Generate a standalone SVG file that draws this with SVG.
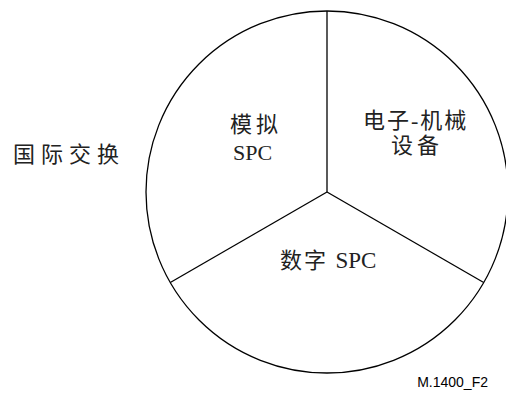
<svg xmlns="http://www.w3.org/2000/svg" width="506" height="396" viewBox="0 0 506 396">
<style>
.ln{fill:none;stroke:#000;stroke-width:1.3}
.lb{font-family:"Liberation Serif","Noto Sans CJK SC",serif;font-size:22px;fill:#222}
.sm{font-family:"Liberation Sans",Arial,sans-serif;font-size:14px;fill:#000}
</style>
<rect width="506" height="396" fill="#fff"/>
<g id="pie">
<circle class="ln" cx="327" cy="192" r="181"/>
</g>
<g id="connectors">
<line class="ln" x1="327" y1="192" x2="327" y2="11"/>
<line class="ln" x1="327" y1="192" x2="170.3" y2="282.5"/>
<line class="ln" x1="327" y1="192" x2="483.7" y2="282.5"/>
</g>
<g id="analog">
<text class="lb" x="230" y="132" letter-spacing="4">模拟</text>
<text class="lb" x="233" y="160" font-size="23">SPC</text>
</g>
<g id="electro">
<text class="lb" x="363" y="128" letter-spacing="2">电子-机械</text>
<text class="lb" x="391" y="153" letter-spacing="4">设备</text>
</g>
<g id="digital">
<text class="lb" x="280" y="268" letter-spacing="2">数字 <tspan font-size="23" letter-spacing="0">SPC</tspan></text>
</g>
<g id="intl">
<text class="lb" x="13" y="162" font-size="20" letter-spacing="6">国际交换</text>
</g>
<text class="sm" x="488" y="387" text-anchor="end">M.1400_F2</text>
</svg>
